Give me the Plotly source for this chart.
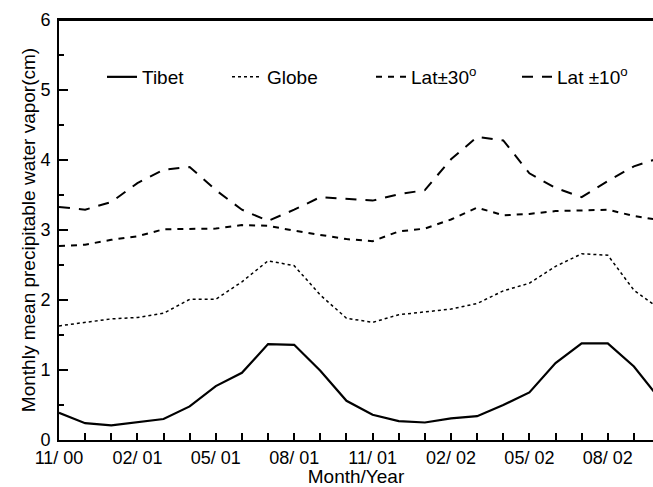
import plotly.graph_objects as go

months = ["11/ 00", "12/ 00", "01/ 01", "02/ 01", "03/ 01", "04/ 01", "05/ 01", "06/ 01",
          "07/ 01", "08/ 01", "09/ 01", "10/ 01", "11/ 01", "12/ 01", "01/ 02", "02/ 02",
          "03/ 02", "04/ 02", "05/ 02", "06/ 02", "07/ 02", "08/ 02", "09/ 02", "10/ 02"]

tibet = [0.39, 0.24, 0.21, 0.26, 0.30, 0.48, 0.77, 0.96, 1.37, 1.36, 0.99, 0.56,
         0.36, 0.27, 0.25, 0.31, 0.34, 0.50, 0.68, 1.10, 1.38, 1.38, 1.05, 0.58]
globe = [1.63, 1.68, 1.73, 1.75, 1.81, 2.01, 2.01, 2.26, 2.56, 2.49, 2.07, 1.74,
         1.68, 1.79, 1.83, 1.87, 1.95, 2.13, 2.24, 2.48, 2.66, 2.64, 2.14, 1.87]
lat30 = [2.77, 2.79, 2.86, 2.91, 3.01, 3.02, 3.02, 3.07, 3.06, 2.99, 2.93, 2.87,
         2.84, 2.98, 3.02, 3.15, 3.32, 3.21, 3.23, 3.27, 3.28, 3.29, 3.20, 3.14]
lat10 = [3.33, 3.29, 3.40, 3.67, 3.86, 3.90, 3.57, 3.29, 3.13, 3.29, 3.47, 3.45,
         3.42, 3.51, 3.57, 4.01, 4.33, 4.28, 3.81, 3.60, 3.47, 3.70, 3.91, 4.03]

tick_labels = [m if i % 3 == 0 else "" for i, m in enumerate(months)]

FONT = "Liberation Sans, Arial, sans-serif"

fig = go.Figure()
series = [
    ("Tibet", tibet, dict(color="black", width=2.2, dash="solid"), "legend"),
    ("Globe", globe, dict(color="black", width=1.5, dash="dot"), "legend2"),
    ("Lat\u00b130<sup>o</sup>", lat30, dict(color="black", width=2, dash="6px,6px"), "legend3"),
    ("Lat \u00b110<sup>o</sup>", lat10, dict(color="black", width=2, dash="11px,9px"), "legend4"),
]
for name, vals, line, lg in series:
    fig.add_trace(go.Scatter(x=months, y=vals, mode="lines", name=name, line=line,
                             legend=lg, showlegend=True))

L, R = 59.0, 653.0
W = R - L
def px2paper(px):
    return (px - L) / W

leg_y = (440 - 77) / 420
legend_common = dict(bgcolor="rgba(0,0,0,0)", borderwidth=0,
                     font=dict(family=FONT, size=19, color="black"),
                     xanchor="left", yanchor="middle", y=leg_y)

fig.update_layout(
    width=653, height=487,
    showlegend=True,
    margin=dict(l=59, r=0, t=20, b=47),
    paper_bgcolor="white", plot_bgcolor="white",
    font=dict(family=FONT, size=18, color="black"),
    legend=dict(x=px2paper(103 - 1), **legend_common),
    legend2=dict(x=px2paper(228 - 1), **legend_common),
    legend3=dict(x=px2paper(372 - 1), **legend_common),
    legend4=dict(x=px2paper(518 - 1), **legend_common),
    xaxis=dict(
        type="category", range=[0, 22.73], automargin=False,
        tickmode="array", tickvals=months, ticktext=tick_labels,
        ticks="inside", ticklen=7, tickwidth=1.5, tickcolor="black",
        showline=True, linecolor="black", linewidth=2, mirror=True,
        showgrid=False, zeroline=False,
        tickfont=dict(size=18), ticklabelstandoff=0,
        title=dict(text="Month/Year", font=dict(size=19), standoff=0),
    ),
    yaxis=dict(
        range=[0, 6], dtick=1, tick0=0, automargin=False,
        ticks="inside", ticklen=9, tickwidth=1.5, tickcolor="black",
        minor=dict(dtick=0.5, ticks="inside", ticklen=5, tickwidth=1.5, tickcolor="black"),
        showline=True, linecolor="black", linewidth=2, mirror=False,
        showgrid=False, zeroline=False,
        tickfont=dict(size=18), ticklabelstandoff=3,
        title=dict(text="Monthly mean precipitable water vapor(cm)", font=dict(size=19), standoff=0),
    ),
    shapes=[dict(type="line", xref="paper", yref="paper", x0=0, x1=1, y0=1, y1=1,
                 line=dict(color="black", width=2))],
)

fig.write_html("out.html", config={"displayModeBar": False},
               post_script="document.body.style.margin='0';")
